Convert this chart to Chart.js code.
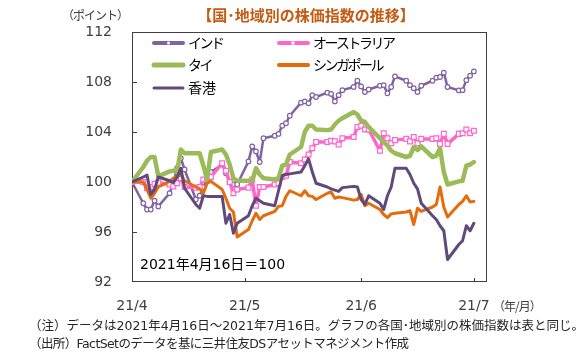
<!DOCTYPE html>
<html><head><meta charset="utf-8">
<script src="https://cdn.jsdelivr.net/npm/chart.js@4.4.0/dist/chart.umd.min.js"></script>
<style>html,body{margin:0;padding:0;background:#fff;}#wrap{width:584px;height:355px;}</style>
</head><body><div id="wrap"><canvas id="c" width="584" height="355"></canvas></div>
<script>
// day offsets from 2021-04-16 (trading days)
const days = [0,3,4,5,6,7,10,11,12,13,14,17,18,19,20,21,24,25,26,27,28,31,32,33,34,35,38,39,40,41,42,45,46,47,48,49,52,53,54,55,56,59,60,61,62,63,66,67,68,69,70,73,74,75,76,77,80,81,82,83,84,87,88,89,90,91];
const xTickDays = [0,30,61,91];
const xTickLabels = ['21/4','21/5','21/6','21/7'];
const yTicks = [92,96,100,104,108,112];
const seriesNames = ['インド','オーストラリア','タイ','シンガポール','香港'];

const india = [100,
 98.3,97.8,97.8,98.5,98.05,
 99.1,99.9,101.1,101.9,101.0,
 98.6,98.9,99.6,100.2,100.8,
 101.4,100.7,100.0,99.8,99.8,
 101.65,102.85,102.45,101.6,103.5,
 103.7,103.85,104.5,104.7,105.3,
 106.35,106.45,106.3,106.95,106.8,
 107.15,107.05,106.45,106.95,107.35,
 107.6,108.1,107.65,107.2,107.4,
 107.7,107.75,107.1,107.6,108.45,
 108.1,107.75,107.5,107.2,107.7,
 108.1,108.35,108.4,108.75,107.6,
 107.33,107.35,108.15,108.5,108.85];
const australia = [100,
 100.0,99.5,99.6,99.85,99.95,
 99.8,99.65,99.9,100.3,99.6,
 99.55,99.6,100.2,100.2,100.4,
 101.5,100.9,100.0,99.1,99.4,
 99.55,100.2,98.1,99.6,99.6,
 99.8,99.9,100.4,100.5,101.6,
 101.5,101.8,102.2,102.7,103.2,
 103.2,103.3,103.25,103.0,103.5,
 103.6,104.4,104.5,104.2,104.2,
 102.5,103.9,103.5,103.1,103.35,
 103.45,103.25,103.6,103.1,103.45,
 103.45,103.5,103.05,103.85,103.05,
 103.85,103.9,104.2,103.9,104.1];
const thailand = [100,
 101.2,101.7,102.0,102.0,100.45,
 100.85,100.9,100.8,102.6,102.3,
 102.3,102.3,101.3,100.2,102.4,
 102.6,102.2,101.4,100.3,100.1,
 100.1,100.1,101.1,100.6,100.3,
 100.2,100.3,101.3,101.4,102.2,
 102.8,104.0,104.5,104.5,104.2,
 104.15,104.2,104.6,104.9,105.1,
 105.6,105.4,104.9,104.8,104.4,
 103.5,103.2,102.9,102.5,102.3,
 102.0,102.1,102.8,102.55,102.85,
 102.0,102.1,102.7,100.8,99.8,
 100.05,100.1,101.3,101.4,101.6];
const singapore = [100,
 100.0,99.4,98.7,99.1,99.6,
 100.05,100.3,100.4,100.6,100.1,
 99.6,99.45,99.1,99.9,100.05,
 99.4,98.7,97.9,97.6,95.6,
 96.2,96.9,97.5,97.0,97.3,
 97.65,98.05,98.1,98.85,99.3,
 98.9,99.3,98.9,98.85,98.6,
 99.1,99.2,98.7,98.8,98.75,
 98.55,98.6,99.0,98.1,98.3,
 97.8,97.4,97.15,97.45,97.5,
 97.6,97.7,96.6,97.9,97.65,
 98.0,98.2,99.6,98.0,97.2,
 98.2,98.45,98.9,98.4,98.45];
const hongkong = [100,
 100.4,100.55,99.0,99.4,100.4,
 100.1,99.95,100.4,101.1,99.5,
 98.2,97.9,98.9,98.85,98.85,
 98.85,96.7,97.4,95.9,96.7,
 97.3,98.1,98.7,98.5,98.3,
 98.1,99.3,100.5,100.6,100.65,
 100.8,101.3,101.85,100.8,99.9,
 99.6,99.45,99.35,99.25,99.55,
 99.65,99.6,98.6,98.2,98.9,
 98.3,97.8,98.9,99.6,101.1,
 101.1,100.6,99.9,99.45,98.3,
 97.3,97.0,96.5,96.1,93.8,
 95.0,95.3,96.5,96.1,96.7];

const toPts = arr => days.map((d,i)=>({x:d,y:arr[i]}));
const FONT = '"DejaVu Sans","Noto Sans CJK JP",sans-serif';
const CJK = '"Noto Sans CJK JP","DejaVu Sans",sans-serif';

const overlay = {
  id:'overlay',
  beforeDatasetsDraw(chart){
    const {ctx, chartArea:a, scales:{x,y}} = chart;
    ctx.save();
    ctx.strokeStyle='#404040'; ctx.lineWidth=1;
    ctx.strokeRect(Math.round(a.left)+0.5, Math.round(a.top)+0.5, Math.round(a.right-a.left)-1, Math.round(a.bottom-a.top)-1);
    ctx.beginPath();
    yTicks.slice(1,-1).forEach(v=>{
      const py = Math.round(y.getPixelForValue(v))+0.5;
      ctx.moveTo(a.left, py); ctx.lineTo(a.left+5, py);
    });
    xTickDays.slice(1).forEach(v=>{
      const px = Math.round(x.getPixelForValue(v))+0.5;
      ctx.moveTo(px, a.bottom); ctx.lineTo(px, a.bottom-4);
    });
    ctx.stroke();
    ctx.restore();
  },
  afterDraw(chart){
    const {ctx, chartArea:a} = chart;
    ctx.save();
    ctx.textBaseline='middle';
    // title
    ctx.fillStyle='#C55A11';
    ctx.font='bold 15px '+CJK;
    ctx.textAlign='center';
    ctx.fillText('【国･地域別の株価指数の推移】', 306, 15);
    // unit
    ctx.textAlign='left';
    ctx.fillStyle='#404040';
    ctx.font='12px '+CJK;
    ctx.letterSpacing='-1px';
    ctx.fillText('（ポイント）', 62, 15);
    ctx.fillText('（年/月）', 493, 306);
    ctx.letterSpacing='0px';
    // base note
    ctx.fillStyle='#000';
    ctx.font='14px '+FONT;
    ctx.fillText('2021年4月16日＝100', 140, 265);
    // legend
    const ds = chart.data.datasets;
    const cols=[152,277], rows=[43,65,88];
    ds.forEach((d,i)=>{
      const lx = cols[i%2], ly = rows[Math.floor(i/2)];
      ctx.strokeStyle=d.borderColor; ctx.lineWidth=d.legendWidth; ctx.lineCap='round';
      ctx.beginPath(); ctx.moveTo(lx+2,ly); ctx.lineTo(lx+31,ly); ctx.stroke();
      if(d.pointRadius>0){
        ctx.fillStyle='#fff'; ctx.lineWidth=1;
        if(d.pointStyle==='rect'){ ctx.fillRect(lx+14.5,ly-1.5,3,3); }
        else { ctx.beginPath(); ctx.arc(lx+16.5,ly,1.5,0,Math.PI*2); ctx.fill(); }
      }
      ctx.fillStyle='#000';
      ctx.font='14px '+FONT;
      ctx.letterSpacing = d.label==='香港' ? '0px' : '-2.5px';
      ctx.fillText(d.label, lx+36, ly+1);
    });
    ctx.letterSpacing='0px';
    // footnotes
    ctx.fillStyle='#262626';
    ctx.font='12.5px '+FONT;
    ctx.fillText('（注）データは2021年4月16日～2021年7月16日。グラフの各国･地域別の株価指数は表と同じ。', 29, 327);
    ctx.letterSpacing='-0.6px';
    ctx.fillText('（出所）FactSetのデータを基に三井住友DSアセットマネジメント作成', 29, 345);
    ctx.restore();
  }
};

const common = {fill:false, tension:0, borderJoinStyle:'round', borderCapStyle:'round'};
new Chart(document.getElementById('c'), {
  type:'line',
  data:{datasets:[
    {...common, label:seriesNames[0], data:toPts(india), borderColor:'#8064A2', borderWidth:2.5, legendWidth:4,
      pointStyle:'circle', pointRadius:2.3, pointBackgroundColor:'#fff', pointBorderColor:'#8064A2', pointBorderWidth:1.2, order:5},
    {...common, label:seriesNames[1], data:toPts(australia), borderColor:'#FF66CC', borderWidth:3.5, legendWidth:4,
      pointStyle:'rect', pointRadius:3.4, pointBackgroundColor:'#fff', pointBorderColor:'#FF66CC', pointBorderWidth:1.2, order:4},
    {...common, label:seriesNames[2], data:toPts(thailand), borderColor:'#9BBB59', borderWidth:4.5, legendWidth:5, pointRadius:0, order:3},
    {...common, label:seriesNames[3], data:toPts(singapore), borderColor:'#E46C0A', borderWidth:3, legendWidth:4, pointRadius:0, order:2},
    {...common, label:seriesNames[4], data:toPts(hongkong), borderColor:'#604A7B', borderWidth:3, legendWidth:3, pointRadius:0, order:1}
  ]},
  options:{
    responsive:false, animation:false, devicePixelRatio:1,
    layout:{padding:{top:32,right:97,left:0,bottom:0}},
    plugins:{legend:{display:false}, tooltip:{enabled:false}},
    elements:{point:{hoverRadius:0}},
    scales:{
      x:{type:'linear', min:0, max:94.5,
        grid:{display:false, drawTicks:false}, border:{display:false},
        afterBuildTicks:s=>{ s.ticks = xTickDays.map(v=>({value:v})); },
        afterFit:s=>{ s.height=73; },
        ticks:{autoSkip:false, maxRotation:0, padding:16, color:'#404040', font:{family:FONT,size:14},
          callback:v=>{ const i=xTickDays.indexOf(v); return i>=0?xTickLabels[i]:''; }}},
      y:{min:92, max:112,
        grid:{display:false, drawTicks:false}, border:{display:false},
        afterBuildTicks:s=>{ s.ticks = yTicks.map(v=>({value:v})); },
        afterFit:s=>{ s.width=132; },
        ticks:{padding:20, color:'#404040', font:{family:FONT,size:14}}}
    }
  },
  plugins:[overlay]
});
</script></body></html>
